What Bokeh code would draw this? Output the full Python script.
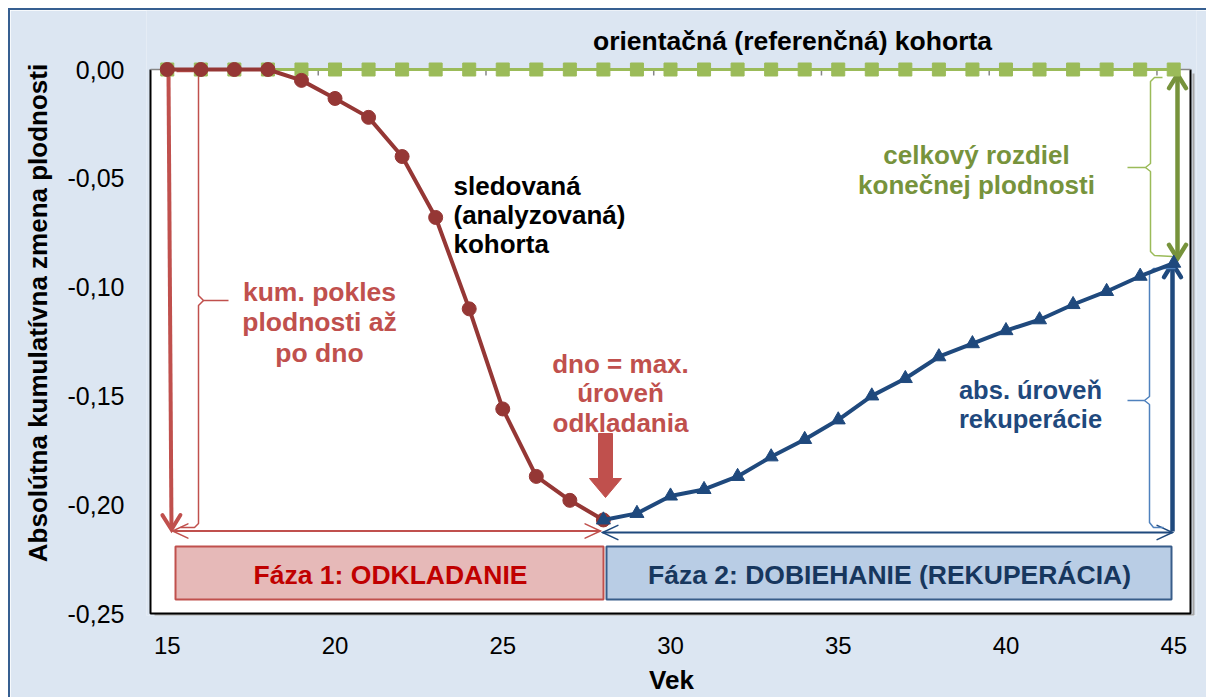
import math
from bokeh.plotting import figure
from bokeh.models import Label, FixedTicker, CustomJSTickFormatter, Range1d
from bokeh.embed import file_html
from bokeh.resources import INLINE

# ---------------- data ----------------
ages_delay = [15, 16, 17, 18, 19, 20, 21, 22, 23, 24, 25, 26, 27, 28]
delay_values = [0.0, 0.0, 0.0, 0.0, -0.005, -0.0133, -0.022, -0.040, -0.068,
                -0.110, -0.156, -0.187, -0.198, -0.207]
ages_recovery = [28, 29, 30, 31, 32, 33, 34, 35, 36, 37, 38, 39, 40, 41, 42, 43, 44, 45]
recovery_values = [-0.207, -0.204, -0.196, -0.193, -0.187, -0.178, -0.170, -0.161,
                   -0.150, -0.142, -0.132, -0.126, -0.120, -0.115, -0.108, -0.102,
                   -0.095, -0.089]
ages_reference = [15, 16, 17, 18, 19, 20, 21, 22, 23, 24, 25, 26, 27, 28, 29, 30,
                  31, 32, 33, 34, 35, 36, 37, 38, 39, 40, 41, 42, 43, 44, 45]
reference_values = [0.0, 0.0, 0.0, 0.0, 0.0, 0.0, 0.0, 0.0, 0.0, 0.0, 0.0, 0.0, 0.0,
                    0.0, 0.0, 0.0, 0.0, 0.0, 0.0, 0.0, 0.0, 0.0, 0.0, 0.0, 0.0, 0.0,
                    0.0, 0.0, 0.0, 0.0, 0.0]
x_ticks = [15, 20, 25, 30, 35, 40, 45]
y_ticks = [-0.25, -0.20, -0.15, -0.10, -0.05, 0.0]
x_label = "Vek"
y_label = "Absolútna kumulatívna zmena plodnosti"

# ---------------- style ----------------
FONT = "Liberation Sans"
PANEL = "#DCE6F2"
FRAME_BLUE = "#365F91"
RED_SERIES = "#953735"
RED_ANN = "#C0504D"
BLUE_SERIES = "#1F497D"
BLUE_LIGHT = "#4F81BD"
GREEN_SERIES = "#9BBB59"
GREEN_DARK = "#77933C"

# helpers: page pixel -> data coordinate (for annotation placement)
PX0, UX = 150.0, 1040.0 / 31.0
PY0, UY = 69.0, 544.0 / 0.25


def dx(px):
    return 14.5 + (px - PX0) / UX


def dy(py):
    return -(py - PY0) / UY


def pts(seq):
    return [dx(a) for a, _ in seq], [dy(b) for _, b in seq]


p = figure(frame_width=1050, frame_height=605,
           min_border_left=136, min_border_top=0, min_border_right=10, min_border_bottom=81,
           x_range=Range1d(dx(146), dx(1196)), y_range=Range1d(dy(615), dy(10)),
           output_backend="svg", toolbar_location=None,
           background_fill_color=PANEL, border_fill_color=PANEL,
           outline_line_color=None)
p.styles = {"margin-left": "8px", "margin-top": "8px",
            "border-left": "2px solid " + FRAME_BLUE, "border-top": "2px solid " + FRAME_BLUE}
p.xgrid.visible = False
p.ygrid.visible = False

# axes
p.xaxis.ticker = FixedTicker(ticks=x_ticks)
p.xaxis.axis_line_color = None
p.xaxis.major_tick_line_color = None
p.xaxis.minor_tick_line_color = None
p.xaxis.major_label_text_font = FONT
p.xaxis.major_label_text_font_size = "24px"
p.xaxis.major_label_text_color = "black"
p.xaxis.major_label_standoff = 15
p.xaxis.axis_label = x_label
p.xaxis.axis_label_text_font = FONT
p.xaxis.axis_label_text_font_size = "26px"
p.xaxis.axis_label_text_font_style = "bold"
p.xaxis.axis_label_text_color = "black"
p.xaxis.axis_label_standoff = 8

p.yaxis.ticker = FixedTicker(ticks=y_ticks)
p.yaxis.formatter = CustomJSTickFormatter(code="return tick.toFixed(2).replace('.', ',');")
p.yaxis.axis_line_color = None
p.yaxis.major_tick_line_color = None
p.yaxis.minor_tick_line_color = None
p.yaxis.major_label_text_font = FONT
p.yaxis.major_label_text_font_size = "25px"
p.yaxis.major_label_text_color = "black"
p.yaxis.major_label_standoff = 16
p.yaxis.axis_label = y_label
p.yaxis.axis_label_text_font = FONT
p.yaxis.axis_label_text_font_size = "26px"
p.yaxis.axis_label_text_font_style = "bold"
p.yaxis.axis_label_text_color = "black"
p.yaxis.axis_label_standoff = 12

# plot area (white) with frame and shadow
p.quad(left=[dx(150)], right=[dx(1190)], bottom=[dy(613)], top=[dy(69)],
       fill_color="white", line_color=None)
p.line(*pts([(1193, 73), (1193, 614.5), (154, 614.5)]), line_color="#A6A6A6", line_width=2)
p.line(*pts([(150, 69), (150, 613), (1190, 613), (1190, 69)]), line_color="black", line_width=2)
p.line(*pts([(150, 69), (1190, 69)]), line_color="#868686", line_width=1.5)
for t in [19.5, 24.5, 29.5, 34.5, 39.5, 44.5]:
    p.segment(x0=[t], y0=[0.0], x1=[t], y1=[dy(75)], line_color="#868686", line_width=1.5)


def arrow_head(tx, ty, ux, uy, color, width, L=15, ang=33):
    a = math.radians(ang)
    bx, by = -ux, -uy
    p1 = (tx + L * (bx * math.cos(a) - by * math.sin(a)), ty + L * (bx * math.sin(a) + by * math.cos(a)))
    p2 = (tx + L * (bx * math.cos(a) + by * math.sin(a)), ty + L * (-bx * math.sin(a) + by * math.cos(a)))
    p.line(*pts([p1, (tx, ty), p2]), line_color=color, line_width=width,
           line_join="miter", line_cap="round")


# phase boxes
p.quad(left=[dx(175)], right=[dx(603)], bottom=[dy(599)], top=[dy(546)],
       fill_color="#E6B9B8", line_color=RED_ANN, line_width=2)
p.quad(left=[dx(606)], right=[dx(1171)], bottom=[dy(599)], top=[dy(546)],
       fill_color="#B9CDE5", line_color="#385D8A", line_width=2)

# red: big vertical arrow, brace, horizontal double arrow
p.line(*pts([(168, 72), (171, 528)]), line_color=RED_ANN, line_width=4)
arrow_head(171, 529, 0.0066, 1.0, RED_ANN, 4, L=17, ang=32)
p.line(*pts([(176, 71), (194, 71), (198, 75), (198, 295), (203, 300), (228, 300)]),
       line_color=RED_ANN, line_width=1.5)
p.line(*pts([(203, 300), (198, 305), (198, 523), (194, 527), (180, 527)]),
       line_color=RED_ANN, line_width=1.5)
p.line(*pts([(172, 530.5), (600, 530.5)]), line_color=RED_ANN, line_width=2)
arrow_head(172, 530.5, -1, 0, RED_ANN, 1.5, L=17, ang=25)
arrow_head(600, 530.5, 1, 0, RED_ANN, 1.5, L=17, ang=25)

# block arrow "dno"
p.patch(*pts([(598, 433), (612, 433), (612, 478), (621, 478), (605, 497), (589, 478), (598, 478)]),
        fill_color=RED_ANN, line_color=RED_ANN)

# blue: horizontal double arrow, vertical arrow, brace
p.line(*pts([(602, 532), (1172, 532)]), line_color=BLUE_SERIES, line_width=2)
arrow_head(602, 532, -1, 0, BLUE_SERIES, 1.5, L=17, ang=25)
arrow_head(1172, 532, 1, 0, BLUE_SERIES, 1.5, L=17, ang=25)
p.line(*pts([(1172, 531), (1172, 264)]), line_color=BLUE_SERIES, line_width=4.5)
arrow_head(1172, 263, 0, -1, BLUE_SERIES, 4.5, L=16, ang=32)
p.line(*pts([(1175, 268), (1153, 268), (1149, 272), (1149, 396), (1144, 400), (1127, 400)]),
       line_color=BLUE_LIGHT, line_width=1.5)
p.line(*pts([(1144, 400), (1149, 404), (1149, 522), (1153, 527), (1163, 527)]),
       line_color=BLUE_LIGHT, line_width=1.5)

# green: vertical double arrow, brace
p.line(*pts([(1177, 75), (1177, 257)]), line_color=GREEN_DARK, line_width=4.5)
arrow_head(1177, 74, 0, -1, GREEN_DARK, 4.5, L=16, ang=32)
arrow_head(1177, 258, 0, 1, GREEN_DARK, 4.5, L=16, ang=32)
p.line(*pts([(1162, 77), (1154, 77), (1150, 81), (1150, 163), (1145, 167), (1127, 167)]),
       line_color=GREEN_SERIES, line_width=1.5)
p.line(*pts([(1145, 167), (1150, 171), (1150, 251), (1154, 255), (1172, 256)]),
       line_color=GREEN_SERIES, line_width=1.5)

# ---------------- series ----------------
p.line(ages_reference, reference_values, line_color=GREEN_SERIES, line_width=3)
p.scatter(ages_reference, reference_values, marker="square", size=13,
          fill_color=GREEN_SERIES, line_color=GREEN_SERIES)
p.line(ages_delay, delay_values, line_color=RED_SERIES, line_width=4)
p.scatter(ages_delay, delay_values, marker="circle", size=14,
          fill_color=RED_SERIES, line_color=RED_SERIES)
p.line(ages_recovery, recovery_values, line_color=BLUE_SERIES, line_width=4)
p.scatter(ages_recovery, recovery_values, marker="triangle", size=14,
          fill_color=BLUE_SERIES, line_color=BLUE_SERIES)


# ---------------- texts ----------------
def label(text, px, py, color, size="26px", align="center", style="bold"):
    p.add_layout(Label(x=dx(px), y=dy(py), text=text, text_align=align,
                       text_baseline="middle", text_font=FONT, text_font_size=size,
                       text_font_style=style, text_color=color))


label("orientačná (referenčná) kohorta", 792, 40, "black", "26.5px")
for i, t in enumerate(["sledovaná", "(analyzovaná)", "kohorta"]):
    label(t, 453, 185 + 29 * i, "black", "26px", align="left")
for i, t in enumerate(["kum. pokles", "plodnosti až", "po dno"]):
    label(t, 319, 291 + 30.5 * i, RED_ANN, "26.5px")
for i, t in enumerate(["dno = max.", "úroveň", "odkladania"]):
    label(t, 620, 363 + 29.5 * i, RED_ANN, "26px")
for i, t in enumerate(["celkový rozdiel", "konečnej plodnosti"]):
    label(t, 976, 154 + 30 * i, GREEN_DARK, "26px")
for i, t in enumerate(["abs. úroveň", "rekuperácie"]):
    label(t, 1030, 389 + 29.5 * i, BLUE_SERIES, "25.5px")
label("Fáza 1: ODKLADANIE", 390, 574, "#C00000", "26.5px")
label("Fáza 2: DOBIEHANIE (REKUPERÁCIA)", 889, 574, "#17375E", "26.5px")

open("out.html", "w").write(file_html(p, INLINE))
